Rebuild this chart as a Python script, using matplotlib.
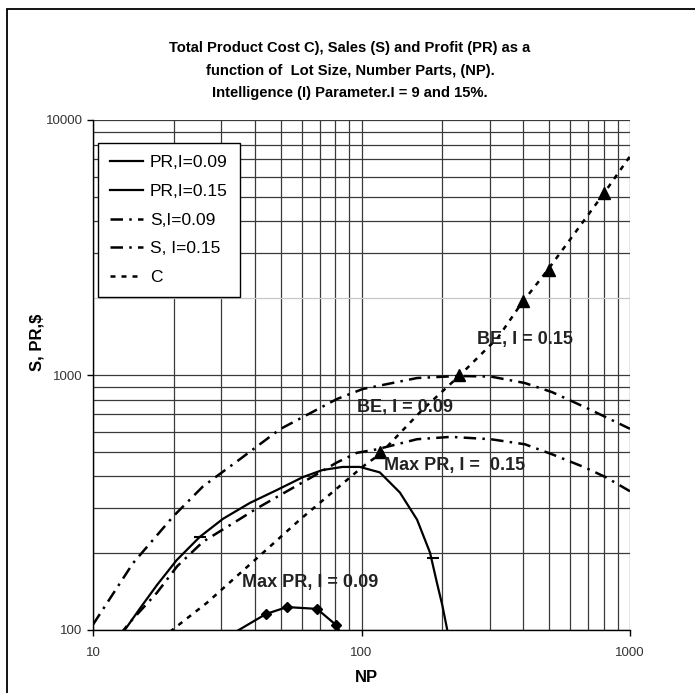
import matplotlib
matplotlib.use("Agg")
import matplotlib.pyplot as plt
from matplotlib import font_manager as fm
from matplotlib.patches import Rectangle
from matplotlib.ticker import FixedLocator, LogLocator, NullFormatter, FuncFormatter

# data (log-log axes)
pr09_np = [28, 31.6, 44.1, 52.8, 68.3, 80.4, 86.8, 92]
pr09_v = [85, 94, 115.6, 123, 121, 104.6, 91, 82]
pr09_mark_np = [44.1, 52.8, 68.3, 80.4]
pr09_mark_v = [115.6, 123, 121, 104.6]

pr15_np = [11.8, 12.6, 15.0, 17.3, 20.5, 25.0, 30.5, 38.4, 48.4, 60.6, 71.6, 85, 98.6, 117, 139, 161, 180, 191, 200, 212]
pr15_v = [85, 94, 122, 150, 188, 232, 273, 315, 354, 398, 424, 436, 436, 415, 346, 271, 201, 153, 125, 92]
pr15_mark_np = [25.0, 184]
pr15_mark_v = [232, 192]

s09_np = [12.5, 13.7, 17.3, 20.6, 25.7, 33.2, 40.8, 51.0, 64.3, 81, 96, 114, 161, 215, 303, 406, 512, 679, 814, 1000]
s09_v = [95, 107, 140, 178, 222, 262, 300, 343, 394, 454, 495, 511, 560, 572, 560, 535, 489, 434, 397, 350]

s15_np = [10, 14.1, 19.9, 25.7, 35.2, 49.7, 81, 101, 161, 229, 303, 406, 512, 679, 814, 1000]
s15_v = [105, 183, 279, 366, 467, 613, 805, 881, 973, 991, 986, 930, 857, 748, 683, 615]

c_np = [18, 19.0, 26.6, 43.0, 59.0, 101.3, 117, 168, 231, 322, 393, 495, 800, 1000]
c_v = [92, 97, 128, 201, 271, 438, 489, 728, 991, 1400, 1900, 2590, 5160, 7210]

tri_np = [117, 231, 400, 500, 800]
tri_v = [497, 1000, 1955, 2590, 5160]

notes = ["BE, I = 0.15", "BE, I = 0.09", "Max PR, I =  0.15", "Max PR, I = 0.09"]
note_np = [269, 96, 121, 36]
note_v = [1384, 743, 440, 153]

title_lines = ["Total Product Cost C), Sales (S) and Profit (PR) as a",
               "function of  Lot Size, Number Parts, (NP).",
               "Intelligence (I) Parameter.I = 9 and 15%."]

names = {f.name for f in fm.fontManager.ttflist}
if "Liberation Sans Narrow" in names:
    title_font, title_size = "Liberation Sans Narrow", 12.5
else:
    title_font, title_size = "Liberation Sans", 10.6

plt.rcParams["font.family"] = ["Liberation Sans", "DejaVu Sans"]

fig = plt.figure(figsize=(6.95, 6.93), dpi=100)
ax = fig.add_axes([93 / 695, 1 - 630 / 693, 537 / 695, 510 / 693])
ax.set_xscale("log")
ax.set_yscale("log")
ax.set_xlim(10, 1000)
ax.set_ylim(100, 10000)

ax.grid(True, which="both", color="#3a3a3a", lw=0.9)
ax.set_axisbelow(True)

k = "black"
l1, = ax.plot(pr09_np, pr09_v, color=k, lw=1.6, label="PR,I=0.09")
ax.plot(pr09_mark_np, pr09_mark_v, ls="none", marker="D", ms=5, color=k)
l2, = ax.plot(pr15_np, pr15_v, color=k, lw=1.6, label="PR,I=0.15")
ax.plot(pr15_mark_np, pr15_mark_v, ls="none", marker="_", ms=9, mew=1.5, color=k)
l3, = ax.plot(s09_np, s09_v, color=k, lw=1.8, ls=(0, (5, 2.5, 1, 2.5)), label="S,I=0.09")
l4, = ax.plot(s15_np, s15_v, color=k, lw=1.8, ls=(0, (5, 2.5, 1, 2.5)), label="S, I=0.15")
l5, = ax.plot(c_np, c_v, color=k, lw=1.8, ls=(0, (2, 2.4)), label="C")
ax.plot(tri_np, tri_v, ls="none", marker="^", ms=9, color=k)

for t, x, y in zip(notes, note_np, note_v):
    ax.text(x, y, t, fontsize=13, fontweight="bold", color="#222222", ha="left", va="center")

for s in ["top", "right"]:
    ax.spines[s].set_visible(False)
for s in ["left", "bottom"]:
    ax.spines[s].set_color("black")
    ax.spines[s].set_linewidth(1.0)

ax.xaxis.set_major_locator(FixedLocator([10, 100, 1000]))
ax.yaxis.set_major_locator(FixedLocator([100, 1000, 10000]))
ax.xaxis.set_minor_locator(LogLocator(base=10, subs=range(2, 10)))
ax.yaxis.set_minor_locator(LogLocator(base=10, subs=range(2, 10)))
fmt = FuncFormatter(lambda v, p: f"{int(round(v))}")
ax.xaxis.set_major_formatter(fmt)
ax.yaxis.set_major_formatter(fmt)
ax.xaxis.set_minor_formatter(NullFormatter())
ax.yaxis.set_minor_formatter(NullFormatter())
ax.tick_params(which="major", direction="out", length=4, width=1, labelsize=9.5, labelcolor="#333333")
ax.tick_params(which="minor", length=0)
ax.tick_params(axis="x", pad=8)

ax.set_xlabel("NP", fontsize=12, fontweight="bold")
ax.set_ylabel("S, PR,$", fontsize=12, fontweight="bold")
ax.xaxis.set_label_coords(0.51, -0.078)
ax.yaxis.set_label_coords(-0.09, 0.565)

leg = ax.legend(handles=[l1, l2, l3, l4, l5], loc="upper left", bbox_to_anchor=(0.0093, 0.955),
                borderaxespad=0, fontsize=12.5, frameon=True, fancybox=False, framealpha=1,
                edgecolor="black", handlelength=1.9, handletextpad=0.4, labelspacing=0.78,
                borderpad=0.7)
leg.get_frame().set_linewidth(1.0)

for line, yb in zip(title_lines, [52, 75, 97]):
    fig.text(350 / 695, 1 - yb / 693, line, ha="center", va="baseline",
             fontsize=title_size, fontweight="bold", family=title_font)

fig.patches.append(Rectangle((7 / 695, -0.05), 1.2, 1.05 - 9 / 693, transform=fig.transFigure,
                             fill=False, lw=1.3, edgecolor="black"))

# the 2000 gridline is drawn light in the reference
fig.canvas.draw()
for tick, loc in zip(ax.yaxis.get_minor_ticks(), ax.yaxis.get_minorticklocs()):
    if abs(loc - 2000) < 1:
        tick.gridline.set_color("#c8c8c8")

fig.savefig("out.png", dpi=100)
